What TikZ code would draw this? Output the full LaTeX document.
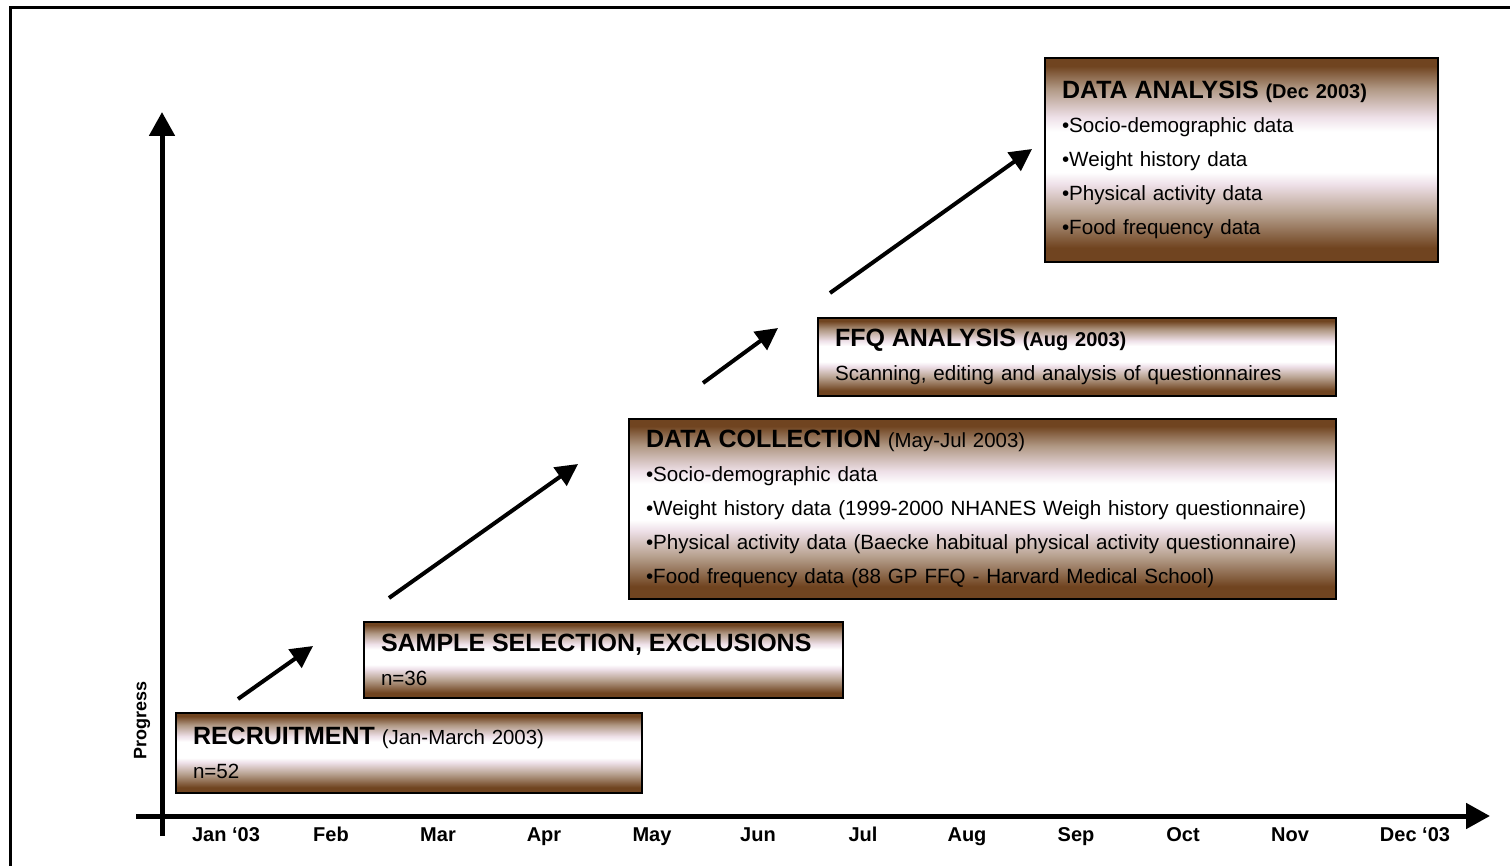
\documentclass[tikz,border=0pt]{standalone}
\usepackage{fontspec}
\setmainfont{Liberation Sans}
\usetikzlibrary{arrows.meta}

\definecolor{bronze}{RGB}{112,68,32}
\definecolor{blush}{RGB}{238,224,232}
\pgfdeclareverticalshading{bronzebar}{100bp}{%
  color(0bp)=(bronze); color(28.5bp)=(bronze); color(37bp)=(bronze!50!white);
  color(44bp)=(blush); color(47bp)=(white); color(57bp)=(white);
  color(60.5bp)=(blush); color(67.5bp)=(bronze!55!white); color(73bp)=(bronze);
  color(100bp)=(bronze)}

\newcommand\stagehead[1]{{\fontsize{12.5}{17}\selectfont\bfseries #1}}
\newcommand\stagewhen[1]{{\fontsize{10.2}{17}\selectfont #1}}
\newcommand\stagewhenb[1]{{\fontsize{10}{17}\selectfont\bfseries #1}}

\begin{document}
\begin{tikzpicture} [
  x=0.5pt, y=-0.5pt,
  frame/.style={line width=1.5pt},
  axis/.style={line width=2.5pt, -{Triangle[length=12pt,width=12.5pt]}},
  step arrow/.style={line width=2pt, -{Triangle[length=11pt,width=11pt]}},
  stage/.style={draw, line width=1pt, shading=bronzebar, anchor=north west,
    align=left, inner xsep=8.5pt, inner ysep=0pt,
    font=\fontsize{10.3}{17}\selectfont},
  month/.style={anchor=base, font=\fontsize{10}{12}\selectfont\bfseries}
  ]
  \useasboundingbox (0,0) rectangle (1510,866);
  \draw [frame] (1510,8) -- (10,8) -- (10,866);

  \coordinate (ybot) at (162,836);
  \coordinate (ytop) at (162,112);
  \coordinate (xleft) at (136,816);
  \coordinate (xright) at (1490,816);
  \draw [axis] (ybot) -- (ytop);
  \draw [axis] (xleft) -- (xright);
  \node (prog) [rotate=90, font=\fontsize{9}{11}\selectfont\bfseries] at (142,720) {Progress};

  \node (m1) [month] at (226,841) {Jan ‘03};
  \node (m2) [month] at (331,841) {Feb};
  \node (m3) [month] at (438,841) {Mar};
  \node (m4) [month] at (544,841) {Apr};
  \node (m5) [month] at (652,841) {May};
  \node (m6) [month] at (758,841) {Jun};
  \node (m7) [month] at (863,841) {Jul};
  \node (m8) [month] at (967,841) {Aug};
  \node (m9) [month] at (1076,841) {Sep};
  \node (m10) [month] at (1183,841) {Oct};
  \node (m11) [month] at (1290,841) {Nov};
  \node (m12) [month] at (1415,841) {Dec ‘03};

  \node (b1) [stage, text width=216pt, minimum height=40pt] at (175,712)
    {\stagehead{RECRUITMENT} \stagewhen{(Jan-March 2003)}\\ n=52};
  \node (b2) [stage, text width=222.5pt, minimum height=38pt] at (363,621)
    {\stagehead{SAMPLE SELECTION, EXCLUSIONS}\\ n=36};
  \node (b3) [stage, text width=336.5pt, minimum height=90pt] at (628,418)
    {\stagehead{DATA COLLECTION} \stagewhen{(May-Jul 2003)}\\
     •Socio-demographic data\\
     •Weight history data (1999-2000 NHANES Weigh history questionnaire)\\
     •Physical activity data (Baecke habitual physical activity questionnaire)\\
     •Food frequency data (88 GP FFQ - Harvard Medical School)};
  \node (b4) [stage, text width=242pt, minimum height=39pt] at (817,317)
    {\stagehead{FFQ ANALYSIS} \stagewhenb{(Aug 2003)}\\
     Scanning, editing and analysis of questionnaires};
  \node (b5) [stage, text width=179.5pt, minimum height=102pt] at (1044,57)
    {\stagehead{DATA ANALYSIS} \stagewhenb{(Dec 2003)}\\
     •Socio-demographic data\\
     •Weight history data\\
     •Physical activity data\\
     •Food frequency data};

  \coordinate (a1s) at (238,699);
  \coordinate (a1e) at (313,646);
  \coordinate (a2s) at (389,598);
  \coordinate (a2e) at (578,464);
  \coordinate (a3s) at (703,383);
  \coordinate (a3e) at (778,328);
  \coordinate (a4s) at (830,293);
  \coordinate (a4e) at (1032,149);
  \draw [step arrow] (a1s) -- (a1e);
  \draw [step arrow] (a2s) -- (a2e);
  \draw [step arrow] (a3s) -- (a3e);
  \draw [step arrow] (a4s) -- (a4e);
\end{tikzpicture}
\end{document}
